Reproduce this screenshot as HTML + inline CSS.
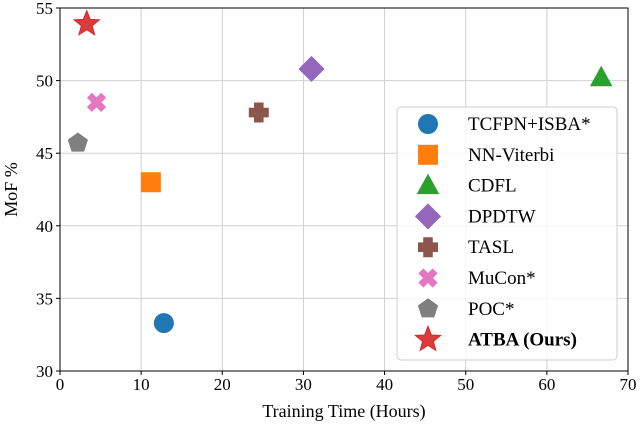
<!DOCTYPE html>
<html><head><meta charset="utf-8"><style>
body{margin:0;background:#fff}
svg text{font-family:"Liberation Serif",serif;fill:#000}
</style></head><body>
<svg id="c" width="640" height="429" xmlns="http://www.w3.org/2000/svg"></svg>
<script>
const methods=["TCFPN+ISBA*","NN-Viterbi","CDFL","DPDTW","TASL","MuCon*","POC*","ATBA (Ours)"];
const hours=[12.8,11.2,66.7,31.0,24.5,4.5,2.2,3.3];
const mof=[33.3,43.0,50.2,50.8,47.8,48.5,45.7,53.9];
const xTicks=[0,10,20,30,40,50,60,70];
const yTicks=[30,35,40,45,50,55];
const colors=["#1f77b4","#ff7f0e","#2ca02c","#9467bd","#8c564b","#e377c2","#7f7f7f","#d62728"];
const shapes=["circle","square","triangle","diamond","plus","x","pentagon","star"];
const L=60,R=628,T=8,B=371;
const sx=v=>L+(v-0)/(70-0)*(R-L);
const sy=v=>B-(v-30)/(55-30)*(B-T);
const svg=document.getElementById('c');
const NS="http://www.w3.org/2000/svg";
function mk(t,a,p){const e=document.createElementNS(NS,t);for(const k in a)e.setAttribute(k,a[k]);(p||svg).appendChild(e);return e;}
function poly(pts){return pts.map(p=>p.join(',')).join(' ');}
function marker(s,cx,cy,r,col,g){
 let e;const st={fill:col,stroke:col,'stroke-width':1};
 if(s==="circle")e=mk('circle',Object.assign({cx,cy,r},st),g);
 else if(s==="square")e=mk('rect',Object.assign({x:cx-r,y:cy-r,width:2*r,height:2*r},st),g);
 else if(s==="triangle")e=mk('polygon',Object.assign({points:poly([[cx,cy-r*1.15],[cx-r*1.1,cy+r*0.85],[cx+r*1.1,cy+r*0.85]])},st),g);
 else if(s==="diamond")e=mk('polygon',Object.assign({points:poly([[cx,cy-r*1.3],[cx+r*1.3,cy],[cx,cy+r*1.3],[cx-r*1.3,cy]])},st),g);
 else if(s==="plus"){const w=r*0.45;e=mk('polygon',Object.assign({points:poly([[cx-w,cy-r],[cx+w,cy-r],[cx+w,cy-w],[cx+r,cy-w],[cx+r,cy+w],[cx+w,cy+w],[cx+w,cy+r],[cx-w,cy+r],[cx-w,cy+w],[cx-r,cy+w],[cx-r,cy-w],[cx-w,cy-w]])},st),g);}
 else if(s==="x"){e=mk('path',{d:`M${cx-r*0.75},${cy-r*0.75}L${cx+r*0.75},${cy+r*0.75}M${cx+r*0.75},${cy-r*0.75}L${cx-r*0.75},${cy+r*0.75}`,stroke:col,'stroke-width':r*0.75,fill:'none'},g);}
 else if(s==="pentagon"){const p=[];for(let i=0;i<5;i++){const a=-Math.PI/2+i*2*Math.PI/5;p.push([cx+r*1.05*Math.cos(a),cy+r*1.05*Math.sin(a)]);}e=mk('polygon',Object.assign({points:poly(p)},st),g);}
 else {const p=[];for(let i=0;i<10;i++){const a=-Math.PI/2+i*Math.PI/5,rr=i%2?r*0.6:r*1.4;p.push([cx+rr*Math.cos(a),cy+rr*Math.sin(a)]);}e=mk('polygon',{points:poly(p),fill:col,'fill-opacity':0.9,stroke:col,'stroke-width':1},g);}
 return e;
}
xTicks.forEach(v=>{const l=mk('line',{x1:sx(v),x2:sx(v),y1:T,y2:B,stroke:'#d0d0d0','stroke-width':1});

});
yTicks.forEach(v=>{const l=mk('line',{x1:L,x2:R,y1:sy(v),y2:sy(v),stroke:'#d0d0d0','stroke-width':1});

});
const fr=mk('rect',{x:L,y:T,width:R-L,height:B-T,fill:'none',stroke:'#000','stroke-width':1});


xTicks.forEach(v=>{mk('line',{x1:sx(v),x2:sx(v),y1:B,y2:B+4,stroke:'#000'});
const t=mk('text',{x:sx(v),y:B+19,'text-anchor':'middle','font-size':17});t.textContent=v;

});
yTicks.forEach(v=>{mk('line',{x1:L-4,x2:L,y1:sy(v),y2:sy(v),stroke:'#000'});
const t=mk('text',{x:L-7,y:sy(v)+6,'text-anchor':'end','font-size':17});t.textContent=v;

});
const xt=mk('text',{x:(L+R)/2,y:417,'text-anchor':'middle','font-size':18});xt.textContent="Training Time (Hours)";


const yt=mk('text',{x:0,y:0,'text-anchor':'middle','font-size':18,transform:`translate(17,${(T+B)/2}) rotate(-90)`});yt.textContent="MoF %";


methods.forEach((m,i)=>{const g=mk('g',{});


marker(shapes[i],sx(hours[i]),sy(mof[i]),9.5,colors[i],g);});
const lg=mk('g',{});


mk('rect',{x:397,y:107,width:220,height:253,rx:4,fill:'#fff','fill-opacity':0.8,stroke:'#ccc'},lg);
methods.forEach((m,i)=>{const y=124+i*30.8;const g=mk('g',{},lg);


marker(shapes[i],428,y,9.5,colors[i],g);
const t=mk('text',{x:468,y:y+6,'font-size':19,'font-weight':i===7?'bold':'normal'},g);t.textContent=m;});
</script>
</body></html>
